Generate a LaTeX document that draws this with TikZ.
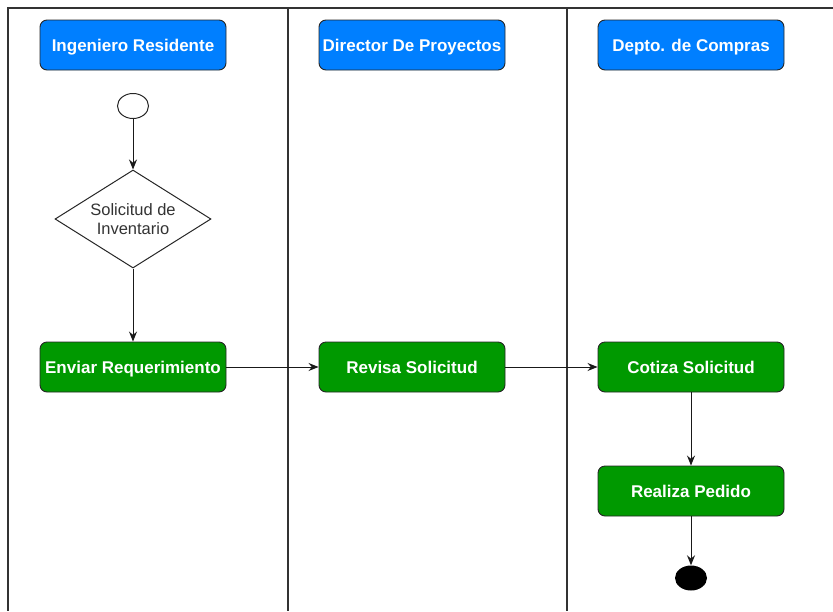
\documentclass[tikz,border=0pt]{standalone}
\usepackage{fontspec}
\setmainfont{Liberation Sans}
\usetikzlibrary{arrows.meta,shapes.geometric}
\definecolor{laneblue}{HTML}{007FFF}
\definecolor{stepgreen}{HTML}{009900}
\definecolor{laneline}{HTML}{333333}
\begin{document}
\begin{tikzpicture}[x=1pt,y=-1pt,
  header/.style={draw=black!85, line width=0.9pt, fill=laneblue, rounded corners=7pt, minimum width=186pt, minimum height=50pt, inner sep=0pt, text height=12.2pt, text depth=0pt, text=white, font=\fontsize{17}{20}\selectfont\bfseries},
  action/.style={header, fill=stepgreen},
  flow/.style={-{Stealth[length=10pt,width=8pt]}, black!90, line width=1pt}]
\useasboundingbox (0,0) rectangle (833,611);

% Draw the swimlanes
\draw[laneline, line width=1.3pt] (833,8) -- (8,8) -- (8,611);
\draw[laneline, line width=1.3pt] (288,8) -- (288,611);
\draw[laneline, line width=1.3pt] (567,8) -- (567,611);

% Lane headers
\node[header] (ing) at (133,45) {Ingeniero Residente};
\node[header] (dir) at (412,45) {Director De Proyectos};
\node[header] (com) at (691,45) {Depto. de Compras};

% Start, decision and actions
\node[draw=black!85, line width=1pt, ellipse, minimum width=31pt, minimum height=25pt, inner sep=0pt] (start) at (133,106) {};
\node[draw=black!85, line width=1pt, diamond, inner sep=-14pt, minimum width=156pt, minimum height=98pt, align=center, font=\fontsize{16.5}{19}\selectfont, text=black!80] (sol) at (133,219) {Solicitud de\\Inventario};
\node[action] (env) at (133,367) {Enviar Requerimiento};
\node[action] (rev) at (412,367) {Revisa Solicitud};
\node[action] (cot) at (691,367) {Cotiza Solicitud};
\node[action] (rea) at (691,491) {Realiza Pedido};
\node[fill=black, ellipse, minimum width=32pt, minimum height=25pt, inner sep=0pt] (fin) at (691,578) {};

% Connectors
\draw[flow] (start) -- (sol);
\draw[flow] (sol) -- (env);
\draw[flow] (env) -- (rev);
\draw[flow] (rev) -- (cot);
\draw[flow] (cot) -- (rea);
\draw[flow] (rea) -- (fin);
\end{tikzpicture}
\end{document}
